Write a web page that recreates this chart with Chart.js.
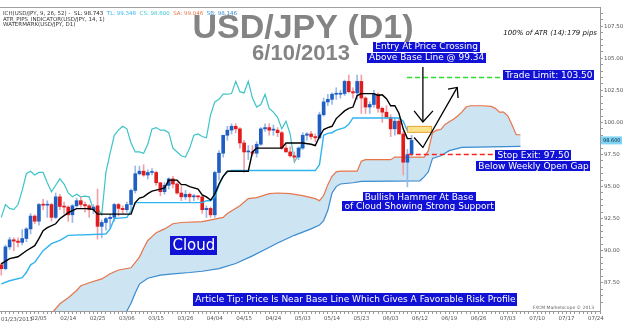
<!DOCTYPE html>
<html>
<head>
<meta charset="utf-8">
<script src="https://cdn.jsdelivr.net/npm/chart.js@4.4.0/dist/chart.umd.min.js"></script>
<style>
  html, body { margin: 0; padding: 0; background: #fff; }
  #wrap { width: 624px; height: 326px; }
</style>
</head>
<body>
<div id="wrap"><canvas id="chart" width="624" height="326"></canvas></div>
<script>
// daily USD/JPY candles, 01/23/2013 .. 06/10/2013 (bar index 0..98)
const opens = [88.90,88.60,90.30,90.85,90.75,90.65,90.95,91.70,92.70,92.30,93.60,93.55,93.60,92.60,94.20,93.45,93.40,92.80,93.50,93.90,
  93.60,93.50,93.20,93.50,91.90,92.20,92.50,92.60,93.60,93.30,93.20,93.60,94.70,96.00,96.20,95.90,96.10,96.10,95.30,94.60,
  95.10,95.60,95.20,94.50,94.20,94.40,94.20,94.25,94.20,93.20,93.30,92.80,96.10,97.60,99.00,99.40,99.70,99.50,98.40,97.70,
  97.70,97.60,98.30,99.50,99.60,99.40,99.40,99.20,98.00,97.70,97.40,97.30,98.00,99.00,99.10,98.90,98.80,100.60,101.60,101.80,
  102.20,102.20,102.25,103.20,102.40,102.30,103.20,101.90,101.20,101.40,102.20,101.10,100.80,100.40,99.50,100.10,99.10,96.90,97.50];
const highs = [89.05,90.45,91.05,91.00,91.00,91.65,91.80,92.90,92.80,93.70,94.00,93.90,93.70,94.50,94.40,93.80,93.50,93.60,94.10,94.20,
  93.80,93.60,93.60,94.80,92.40,92.60,92.80,93.70,93.70,93.50,93.80,94.80,96.60,96.60,96.70,96.30,96.40,96.20,95.30,95.30,
  95.70,95.80,95.30,95.00,94.70,94.50,94.40,94.30,94.30,93.50,93.40,96.20,97.80,99.00,99.70,99.90,99.90,99.60,98.60,98.20,
  98.20,98.50,99.60,99.90,99.90,99.80,99.60,99.30,98.30,98.10,97.70,98.10,99.20,99.20,99.30,99.10,100.80,101.90,102.20,102.30,
  102.70,102.50,103.30,103.70,102.70,103.70,103.70,102.00,101.60,102.50,102.30,101.20,101.30,100.60,100.40,100.30,99.30,97.90,99.00];
const lows = [88.10,88.50,90.10,90.00,90.30,90.45,90.70,91.30,92.10,92.00,93.20,92.60,92.30,92.50,93.20,92.90,92.30,92.20,93.40,93.40,
  93.00,92.60,92.90,90.90,91.00,91.60,91.80,92.30,92.70,92.90,93.00,93.20,94.50,95.90,95.80,95.60,95.90,95.10,94.30,94.40,
  94.80,94.90,94.40,93.90,94.00,93.80,93.90,94.00,92.90,92.60,92.60,92.60,95.50,97.30,98.60,99.10,99.20,98.00,96.10,97.10,
  97.40,97.30,98.20,99.30,99.00,99.00,98.90,97.90,97.70,97.30,97.00,97.10,97.90,98.60,98.70,98.50,98.70,100.50,101.30,101.40,
  101.80,101.90,102.10,102.30,101.90,101.80,100.70,100.70,100.70,101.20,100.80,100.00,100.40,98.90,99.00,99.10,95.90,94.98,97.40];
const closes = [88.60,90.30,90.85,90.75,90.65,90.95,91.70,92.70,92.30,93.60,93.55,93.60,92.60,94.20,93.45,93.40,92.80,93.50,93.90,93.60,
  93.50,93.20,93.40,91.90,92.20,92.50,92.60,93.60,93.30,93.20,93.60,94.70,96.00,96.20,95.90,96.10,96.10,95.30,94.60,95.10,
  95.60,95.20,94.50,94.20,94.40,94.20,94.25,94.20,93.20,93.30,92.80,96.10,97.60,99.00,99.40,99.70,99.50,98.40,97.70,97.70,
  97.60,98.30,99.50,99.60,99.40,99.40,99.20,98.00,97.70,97.40,97.30,98.00,99.00,99.10,98.90,98.80,100.60,101.60,101.80,102.20,
  102.20,102.25,103.20,102.40,102.30,103.20,101.90,101.20,101.40,102.20,101.10,100.80,100.40,99.50,100.10,99.10,96.90,97.50,98.60];

// ichimoku lines as [bar index, price] vertices
const tenkan = [[0,88.98],[2,89.38],[4,89.53],[6,90.0],[8,90.39],[9,90.94],[10,91.56],[11,91.8],[13,92.1],[14,92.5],[15,92.73],
  [16,92.97],[17,93.13],[18,93.28],[21,93.28],[22,93.2],[23,92.85],[31,92.85],[32,93.75],[33,94.1],[34,94.2],[35,94.45],
  [36,94.65],[38,94.8],[39,94.9],[40,95.5],[42,95.5],[43,95.15],[44,95.15],[45,95.0],[47,94.8],[48,94.35],[49,94.2],
  [50,93.95],[51,94.4],[52,95.2],[53,95.8],[54,96.2],[59,96.2],[60,97.7],[61,98.0],[67,98.0],[68,98.4],[72,98.4],[74,98.3],
  [75,98.2],[76,98.9],[77,99.45],[78,99.6],[79,99.7],[80,100.3],[81,100.6],[82,100.9],[83,101.1],[84,101.2],[85,102.1],
  [86,102.25],[89,102.25],[90,102.1],[91,102.15],[92,101.85],[93,101.3],[94,101.3],[95,100.7],[96,99.5],[97,98.74],[98,98.74]];
const kijun = [[0,87.42],[2,87.66],[5,87.9],[6,88.3],[7,88.9],[8,89.1],[10,90.0],[12,90.55],[14,90.8],[16,91.2],[25,91.3],
  [26,91.7],[27,92.5],[30,92.6],[31,93.1],[32,93.75],[48,93.75],[49,93.9],[50,93.9],[51,94.2],[52,95.1],[53,95.8],[54,96.15],
  [55,96.25],[75,96.25],[76,96.7],[77,99.0],[78,99.15],[79,99.2],[80,99.4],[82,99.6],[83,99.85],[84,100.35],[95,100.35],
  [96,100.1],[97,99.34],[98,99.34]];
const senkouA = [[0,82.5],[12,85.1],[14,85.86],[16,86.33],[18,86.9],[19,87.27],[21,87.5],[24,87.8],[26,88.2],[28,88.5],
  [31,88.67],[33,89.5],[34,90.2],[35,90.8],[36,91.1],[37,91.4],[39,91.7],[41,92.1],[43,92.2],[48,92.27],[53,92.6],[54,92.9],
  [57,93.5],[59,94.06],[61,94.14],[64,94.45],[66,94.5],[69,94.45],[72,94.3],[75,94.06],[76,93.9],[77,94.3],[78,95.15],
  [79,95.8],[80,96.15],[81,96.2],[85,96.2],[86,96.97],[87,97.1],[93,97.1],[94,97.3],[101,97.3],[102,97.8],[103,99.2],
  [104,99.4],[105,99.45],[106,99.85],[107,100.05],[108,100.25],[109,100.5],[110,100.8],[111,101.2],[112,101.3],[115,101.3],
  [117,101.25],[118,101.1],[119,100.8],[120,100.8],[121,100.5],[122,99.8],[123,99.04],[124,99.04]];
const senkouB = [[0,82.0],[28,84.5],[30,85.3],[31,85.9],[32,86.7],[33,87.4],[35,87.85],[38,88.1],[41,88.2],[45,88.3],
  [48,88.4],[52,88.6],[56,89.0],[60,89.6],[63,90.1],[66,90.6],[70,91.2],[74,91.7],[76,92.0],[77,92.35],[78,93.15],[79,94.5],
  [80,95.0],[81,95.2],[84,95.3],[86,95.4],[100,95.45],[101,95.75],[102,96.15],[103,97.2],[105,97.4],[107,97.8],[110,98.05],
  [124,98.14]];
const chikouShift = 26;

// axis labels
const xTickIdx = [0,9,16,23,30,37,44,51,58,65,72,79,86,93,100,107,114,121,128,135,142];
const xTickLabels = ['01/23/2013','02/05','02/14','02/25','03/06','03/15','03/26','04/04','04/15','04/24','05/03',
  '05/14','05/23','06/03','06/12','06/19','06/26','07/03','07/10','07/17','07/24'];
const headerLines = [
  [['ICH(USD/JPY, 9, 26, 52) -  ', '#333'], ['SL: 98.743  ', '#222'], ['TL: 99.348  ', '#2fb4f0'], ['CS: 98.600  ', '#3cc4c8'],
   ['SA: 99.046  ', '#e8744a'], ['SB: 98.146', '#3b8bd0']],
  [['ATR_PIPS_INDICATOR(USD/JPY, 14, 1)', '#333']],
  [['WATERMARK(USD/JPY, D1)', '#333']]
];

const UP = '#1f5fc4', DOWN = '#e01c1c';
const UP_WICK = '#9ab8e6', DOWN_WICK = '#f2a0a6';

const notes = [
  { i: 101.6, v: 106.3, step: 11, lines: ['Entry At Price Crossing', 'Above Base Line @ 99.34'] },
  { i: 130.8, v: 104.1, step: 11, lines: ['Trade Limit: 103.50'] },
  { i: 127.1, v: 97.85, step: 11, lines: ['Stop Exit: 97.50', 'Below Weekly Open Gap'] },
  { i: 99.8, v: 94.6, step: 9.5, lines: ['Bullish Hammer At Base', 'of Cloud Showing Strong Support'] },
  { i: 84.6, v: 86.7, step: 13, lines: ['Article Tip: Price Is Near Base Line Which Gives A Favorable Risk Profile'] }
];

const overlay = {
  id: 'overlay',
  beforeDatasetsDraw(chart) {
    const { ctx, chartArea: a, scales: { x, y } } = chart;
    const px = i => x.getPixelForValue(i), py = v => y.getPixelForValue(v);
    ctx.save();
    // watermark
    ctx.fillStyle = '#848484';
    ctx.textAlign = 'center';
    ctx.textBaseline = 'alphabetic';
    ctx.font = 'bold 34px "Liberation Sans"';
    ctx.fillText('USD/JPY (D1)', 303, 38);
    ctx.font = 'bold 22px "Liberation Sans"';
    ctx.fillText('6/10/2013', 301, 60);
    // kumo
    ctx.beginPath();
    ctx.rect(a.left, a.top, a.right - a.left, a.bottom - a.top);
    ctx.clip();
    ctx.beginPath();
    senkouA.forEach(([i, v], k) => k ? ctx.lineTo(px(i), py(v)) : ctx.moveTo(px(i), py(v)));
    senkouB.slice().reverse().forEach(([i, v]) => ctx.lineTo(px(i), py(v)));
    ctx.closePath();
    ctx.fillStyle = '#cde4f2';
    ctx.fill();
    ctx.restore();
  },
  afterDatasetsDraw(chart) {
    const { ctx, scales: { x, y } } = chart;
    const px = i => x.getPixelForValue(i), py = v => y.getPixelForValue(v);
    ctx.save();
    // limit / stop lines
    ctx.lineWidth = 1.5;
    ctx.setLineDash([5, 3]);
    ctx.strokeStyle = '#2ee02e';
    ctx.beginPath(); ctx.moveTo(px(96.9), py(103.5)); ctx.lineTo(px(119.8), py(103.5)); ctx.stroke();
    ctx.strokeStyle = '#ff2424';
    ctx.beginPath(); ctx.moveTo(px(97.1), py(97.5)); ctx.lineTo(px(117.9), py(97.5)); ctx.stroke();
    ctx.setLineDash([]);
    // entry zone
    ctx.fillStyle = '#fde38c';
    ctx.strokeStyle = '#e6a640';
    ctx.lineWidth = 1;
    const zx = px(96.9), zy = py(99.73);
    ctx.fillRect(zx, zy, px(102.9) - zx, py(99.19) - zy);
    ctx.strokeRect(zx + 0.5, zy + 0.5, px(102.9) - zx - 1, py(99.19) - zy - 1);
    // arrows
    ctx.strokeStyle = '#000';
    ctx.lineWidth = 1.3;
    const poly = pts => { ctx.beginPath(); pts.forEach(([i, v], k) => k ? ctx.lineTo(px(i), py(v)) : ctx.moveTo(px(i), py(v))); ctx.stroke(); };
    poly([[100.7, 104.32], [100.7, 100.04]]);
    poly([[98.6, 100.9], [100.7, 100.04], [103.1, 100.9]]);
    poly([[98.6, 98.83], [100.7, 98.05], [108.9, 102.73]]);
    poly([[106.7, 102.6], [108.9, 102.73], [109.1, 101.9]]);
    // text boxes
    ctx.font = '9px "DejaVu Sans"';
    ctx.textAlign = 'center';
    ctx.textBaseline = 'middle';
    notes.forEach(n => {
      const cx = px(n.i);
      n.lines.forEach((t, k) => {
        const top = py(n.v) + k * n.step;
        const w = ctx.measureText(t).width + 4;
        ctx.fillStyle = '#1212d6';
        ctx.fillRect(Math.round(cx - w / 2), Math.round(top), Math.round(w), n.step > 12 ? 13 : 10);
        ctx.fillStyle = '#fff';
        ctx.fillText(t, cx, top + (n.step > 12 ? 7 : 5.5));
      });
    });
    // cloud label
    ctx.font = '15px "DejaVu Sans"';
    const cw = ctx.measureText('Cloud').width + 4;
    const ccx = px(46), cty = py(91.15);
    ctx.fillStyle = '#1212d6';
    ctx.fillRect(Math.round(ccx - cw / 2), Math.round(cty), Math.round(cw), 19);
    ctx.fillStyle = '#fff';
    ctx.fillText('Cloud', ccx, cty + 10);
    ctx.restore();
  },
  afterDraw(chart) {
    const { ctx, chartArea: a, scales: { x, y } } = chart;
    ctx.save();
    // top frame
    ctx.strokeStyle = '#a0a0a0';
    ctx.lineWidth = 1;
    ctx.beginPath(); ctx.moveTo(a.left, a.top + 0.5); ctx.lineTo(a.right, a.top + 0.5); ctx.stroke();
    // header texts
    ctx.font = '5.5px "DejaVu Sans"';
    ctx.textAlign = 'left';
    ctx.textBaseline = 'middle';
    headerLines.forEach((parts, k) => {
      let cx = 3;
      parts.forEach(([t, c]) => { ctx.fillStyle = c; ctx.fillText(t, cx, 14 + k * 5.5); cx += ctx.measureText(t).width; });
    });
    ctx.fillStyle = '#111';
    ctx.textAlign = 'right';
    ctx.font = 'italic 7px "DejaVu Sans"';
    ctx.fillText('100% of ATR (14):179 pips', 597, 33);
    ctx.fillStyle = '#666';
    ctx.font = '4.5px "DejaVu Sans"';
    ctx.fillText('FXCM Marketscope \u00a9 2013', 594, 308);
    // first date label
    ctx.textAlign = 'left';
    ctx.font = '5.5px "DejaVu Sans"';
    ctx.fillStyle = '#555';
    ctx.fillText(xTickLabels[0], 1, a.bottom + 9);
    // last price tag
    const ly = y.getPixelForValue(closes[closes.length - 1]);
    ctx.fillStyle = '#7fd4f6';
    ctx.fillRect(a.right + 1, ly - 4, 21, 8);
    ctx.fillStyle = '#123';
    ctx.font = '5px "DejaVu Sans"';
    ctx.fillText(closes[closes.length - 1].toFixed(3), a.right + 3, ly);
    ctx.restore();
  }
};

const toPts = arr => arr.map(([i, v]) => ({ x: i, y: v }));
const lineSet = (data, color, width, order) => ({
  type: 'line', data, borderColor: color, borderWidth: width, pointRadius: 0, tension: 0, fill: false, order
});

Chart.defaults.font.family = 'DejaVu Sans';
new Chart(document.getElementById('chart'), {
  type: 'line',
  data: {
    datasets: [
      lineSet(toPts(tenkan), '#000000', 1.4, 0),
      lineSet(toPts(kijun), '#2fb4f0', 1.4, 1),
      {
        type: 'bar', order: 2, grouped: false, barThickness: 3, minBarLength: 1,
        data: opens.map((o, i) => ({ x: i, y: [o, closes[i]] })),
        backgroundColor: opens.map((o, i) => closes[i] >= o ? UP : DOWN)
      },
      {
        type: 'bar', order: 3, grouped: false, barThickness: 1,
        data: lows.map((l, i) => ({ x: i, y: [l, highs[i]] })),
        backgroundColor: opens.map((o, i) => closes[i] >= o ? UP_WICK : DOWN_WICK)
      },
      lineSet(closes.slice(chikouShift).map((c, i) => ({ x: i, y: c })), '#3cc4c8', 1.2, 4),
      lineSet(toPts(senkouA), '#e8744a', 1.2, 5),
      lineSet(toPts(senkouB), '#3b8bd0', 1.2, 6)
    ]
  },
  options: {
    responsive: false,
    animation: false,
    devicePixelRatio: 1,
    layout: { padding: { top: 7, left: 0, right: 0, bottom: 0 } },
    plugins: { legend: { display: false }, tooltip: { enabled: false } },
    scales: {
      x: {
        type: 'linear', min: -0.3, max: 143, offset: false,
        afterBuildTicks: s => { s.ticks = Array.from({ length: 144 }, (_, i) => ({ value: i })); },
        afterFit: s => { s.height = 15; },
        ticks: {
          autoSkip: false, maxRotation: 0, padding: 1, color: '#555', font: { size: 5.5 },
          callback: v => { const k = xTickIdx.indexOf(v); return k > 0 ? xTickLabels[k] : ''; }
        },
        grid: { drawOnChartArea: false, tickLength: 3, color: '#999', offset: false },
        border: { color: '#999' }
      },
      y: {
        position: 'right', min: 85.3, max: 109,
        afterBuildTicks: s => { s.ticks = Array.from({ length: 46 }, (_, k) => ({ value: 86 + k * 0.5 })); },
        afterFit: s => { s.width = 24; },
        ticks: {
          autoSkip: false, padding: 1, color: '#555', font: { size: 5.5 },
          callback: v => Math.abs(v / 2.5 - Math.round(v / 2.5)) < 1e-6 ? v.toFixed(2) : ''
        },
        grid: { drawOnChartArea: false, tickLength: 3, color: '#999' },
        border: { color: '#999' }
      }
    }
  },
  plugins: [overlay]
});
</script>
</body>
</html>
